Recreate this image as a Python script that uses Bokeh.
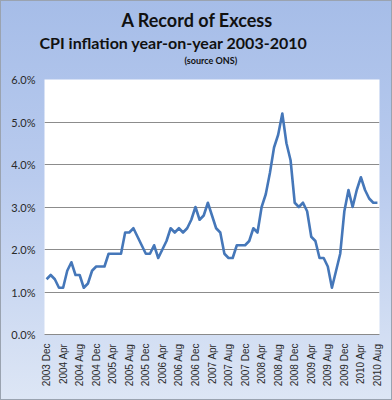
from bokeh.plotting import figure
from bokeh.models import FixedTicker, PrintfTickFormatter, Title, Range1d, ColumnDataSource
from bokeh.embed import file_html
from bokeh.resources import INLINE
from math import pi

# CPI inflation, year-on-year %, monthly Dec 2003 - Aug 2010
cpi_2003 = [1.3]
cpi_2004 = [1.4, 1.3, 1.1, 1.1, 1.5, 1.7, 1.4, 1.4, 1.1, 1.2, 1.5, 1.6]
cpi_2005 = [1.6, 1.6, 1.9, 1.9, 1.9, 1.9, 2.4, 2.4, 2.5, 2.3, 2.1, 1.9]
cpi_2006 = [1.9, 2.1, 1.8, 2.0, 2.2, 2.5, 2.4, 2.5, 2.4, 2.5, 2.7, 3.0]
cpi_2007 = [2.7, 2.8, 3.1, 2.8, 2.5, 2.4, 1.9, 1.8, 1.8, 2.1, 2.1, 2.1]
cpi_2008 = [2.2, 2.5, 2.4, 3.0, 3.3, 3.8, 4.4, 4.7, 5.2, 4.5, 4.1, 3.1]
cpi_2009 = [3.0, 3.1, 2.9, 2.3, 2.2, 1.8, 1.8, 1.6, 1.1, 1.5, 1.9, 2.9]
cpi_2010 = [3.4, 3.0, 3.4, 3.7, 3.4, 3.2, 3.1, 3.1]

tick_labels = ["2003 Dec", "2004 Apr", "2004 Aug", "2004 Dec", "2005 Apr", "2005 Aug",
               "2005 Dec", "2006 Apr", "2006 Aug", "2006 Dec", "2007 Apr", "2007 Aug",
               "2007 Dec", "2008 Apr", "2008 Aug", "2008 Dec", "2009 Apr", "2009 Aug",
               "2009 Dec", "2010 Apr", "2010 Aug"]
y_ticks = [0, 1, 2, 3, 4, 5, 6]

title_text = "A Record of Excess"
subtitle_text = "CPI inflation year-on-year 2003-2010"
source_text = "(source ONS)"

values = cpi_2003 + cpi_2004 + cpi_2005 + cpi_2006 + cpi_2007 + cpi_2008 + cpi_2009 + cpi_2010
xs = list(range(len(values)))
src = ColumnDataSource(dict(x=xs, y=values))

p = figure(width=392, height=400, output_backend="svg", toolbar_location=None,
           x_range=Range1d(-0.5, len(values) - 0.5), y_range=Range1d(0, 6),
           min_border_left=44, min_border_right=13, min_border_bottom=66, min_border_top=79)
p.styles = {"background": "linear-gradient(to bottom, #a6bde8 0%, #b9cbee 45%, #dde6f5 100%)",
            "box-shadow": "inset 0 0 0 1px #9aa3b0"}
p.border_fill_color = None
p.background_fill_color = "white"
p.outline_line_color = None

p.line("x", "y", source=src, line_color="#4577b9", line_width=2.6, line_join="round")

tick_pos = list(range(0, len(values), 4))
p.xaxis.ticker = FixedTicker(ticks=tick_pos)
p.xaxis.major_label_overrides = {t: lab for t, lab in zip(tick_pos, tick_labels)}
p.xaxis.major_label_orientation = pi / 2
p.xaxis.major_tick_line_color = None
p.xaxis.major_tick_out = 0
p.xaxis.major_tick_in = 0
p.xaxis.minor_tick_line_color = None
p.xaxis.minor_tick_out = 0
p.xaxis.axis_line_color = "#8a8a8a"
p.xaxis.major_label_standoff = 9
p.xaxis.major_label_text_font = "Liberation Sans"
p.xaxis.major_label_text_font_size = "10px"
p.xaxis.major_label_text_color = "#2a2a2a"

p.yaxis.ticker = FixedTicker(ticks=y_ticks)
p.yaxis.formatter = PrintfTickFormatter(format="%.1f%%")
p.yaxis.axis_line_color = None
p.yaxis.major_tick_line_color = None
p.yaxis.major_tick_out = 0
p.yaxis.major_tick_in = 0
p.yaxis.minor_tick_line_color = None
p.yaxis.minor_tick_out = 0
p.yaxis.major_label_standoff = 9
p.yaxis.major_label_text_font = "Lato"
p.yaxis.major_label_text_font_size = "11px"
p.yaxis.major_label_text_color = "#2a2a2a"

p.xgrid.grid_line_color = None
p.ygrid.ticker = FixedTicker(ticks=y_ticks)
p.ygrid.grid_line_color = "#8c8c8c"
p.ygrid.grid_line_width = 1

# titles stacked outward from the plot frame (a blank spacer first)
p.add_layout(Title(text=" ", text_font_size="1px", standoff=10), "above")
p.add_layout(Title(text=source_text, text_font="Lato", text_font_style="bold",
                   text_font_size="9px", align="left", offset=140, standoff=2,
                   text_color="#111111"), "above")
p.add_layout(Title(text=subtitle_text, text_font="Lato", text_font_style="bold",
                   text_font_size="16px", align="left", offset=-5, standoff=0,
                   text_color="#111111"), "above")
p.add_layout(Title(text=title_text, text_font="Lato", text_font_style="bold",
                   text_font_size="18px", align="left", offset=77, standoff=0,
                   text_color="#111111"), "above")

open("out.html", "w").write(file_html(p, INLINE))
